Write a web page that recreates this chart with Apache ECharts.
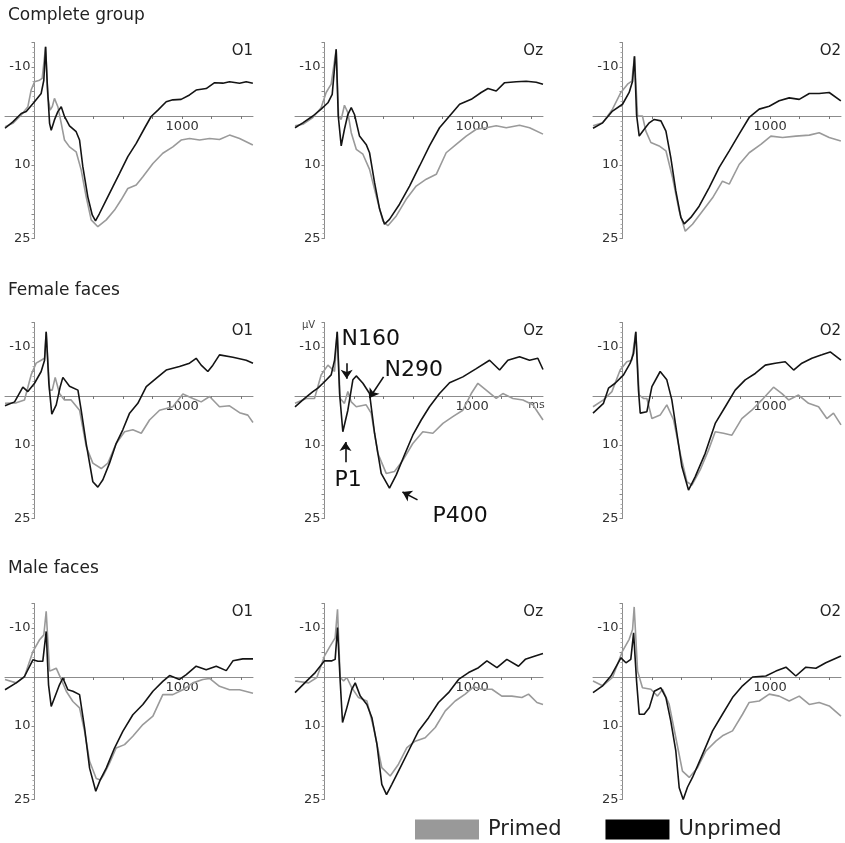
<!DOCTYPE html>
<html>
<head>
<meta charset="utf-8">
<script src="https://cdn.jsdelivr.net/npm/echarts@6/dist/echarts.min.js"></script>
<style>html,body{margin:0;padding:0;background:#fff;}#c{width:845px;height:843px;}</style>
</head>
<body>
<div id="c"></div>
<script>
// ---------- labels ----------
const groupTitles = ['Complete group', 'Female faces', 'Male faces'];
const channelNames = ['O1', 'Oz', 'O2'];
const seriesNames = ['Primed', 'Unprimed'];
const yTickLabels = [-10, 10, 25];
const xTickLabels = [1000];

// ---------- data: [time ms, amplitude µV] (negative up) ----------
const complete_O1_primed = [[-200,2.2],[-147,1.5],[-90,-0.2],[-45,-1.9],[-23,-5.3],[0,-7.0],[34,-7.3],[52,-7.7],[75,-14.1],[90,-3.9],[106,-1.2],[120,-1.9],[135,-3.6],[158,-1.9],[181,1.5],[203,4.9],[237,6.3],[282,7.3],[316,11.0],[350,16.5],[384,21.2],[429,22.6],[486,21.2],[542,19.2],[587,17.1],[632,14.8],[689,14.1],[734,12.4],[802,9.7],[869,7.6],[937,6.3],[993,4.9],[1050,4.6],[1118,4.9],[1186,4.6],[1253,4.8],[1321,3.9],[1389,4.6],[1479,5.9]];
const complete_O1_unprimed = [[-200,2.5],[-147,1.2],[-90,-0.5],[-56,-0.9],[0,-2.9],[45,-4.6],[63,-7.3],[75,-14.1],[86,-6.7],[102,1.5],[113,2.9],[135,0.8],[158,-0.9],[181,-1.9],[203,0.1],[237,2.0],[282,3.2],[305,4.9],[327,10.3],[361,16.5],[391,20.2],[413,21.4],[440,19.9],[486,17.1],[531,14.4],[576,11.7],[632,8.3],[689,5.6],[745,2.5],[790,0.1],[836,-1.2],[892,-2.9],[937,-3.3],[993,-3.4],[1050,-4.3],[1095,-5.3],[1163,-5.6],[1220,-6.8],[1276,-6.7],[1321,-7.0],[1389,-6.7],[1434,-7.0],[1479,-6.7]];
const complete_Oz_primed = [[-200,2.0],[-147,1.7],[-79,0.3],[-23,-1.7],[11,-4.8],[45,-6.5],[79,-13.6],[95,0],[113,0.7],[135,-2.2],[158,-0.7],[181,3.4],[215,6.8],[260,7.8],[305,10.9],[350,16.3],[395,21.4],[429,22.4],[486,20.4],[553,17.0],[621,14.3],[689,12.9],[757,11.9],[824,7.5],[892,5.8],[960,4.1],[1028,2.7],[1095,2.4],[1163,2.0],[1231,2.4],[1321,1.9],[1389,2.4],[1480,3.7]];
const complete_Oz_unprimed = [[-200,2.4],[-147,1.4],[-79,0],[-23,-1.4],[23,-2.7],[52,-4.4],[79,-13.6],[93,0],[113,6.1],[135,2.7],[158,-0.3],[181,-1.7],[203,-0.3],[237,4.1],[282,5.8],[305,7.5],[339,13.6],[373,19.0],[406,22.1],[440,21.1],[508,18.0],[576,14.3],[644,10.2],[711,6.1],[779,2.4],[847,0],[915,-2.4],[994,-3.4],[1061,-4.8],[1107,-5.6],[1163,-5.1],[1220,-6.8],[1299,-7.0],[1366,-7.1],[1434,-6.9],[1480,-6.5]];
const complete_O2_primed = [[-200,2.0],[-135,1.4],[-68,-1.4],[-11,-4.8],[34,-6.5],[63,-7.1],[81,-12.2],[102,0],[135,0],[158,3.1],[192,5.4],[248,6.1],[294,7.1],[339,12.6],[384,19.4],[425,23.5],[474,22.1],[542,19.4],[610,16.7],[677,13.3],[723,13.9],[790,9.9],[858,7.5],[937,5.8],[1005,4.1],[1084,4.4],[1174,4.1],[1265,3.9],[1332,3.4],[1400,4.4],[1479,5.1]];
const complete_O2_unprimed = [[-200,2.5],[-135,1.4],[-68,-1.0],[0,-2.4],[45,-4.8],[68,-7.1],[81,-12.2],[95,-0.3],[113,4.1],[147,2.7],[181,1.4],[215,0.7],[260,1.0],[294,3.1],[327,8.5],[361,15.3],[395,20.7],[418,22.0],[463,20.7],[519,18.4],[587,14.6],[655,10.5],[723,7.1],[790,3.7],[858,0.3],[926,-1.4],[994,-2.0],[1061,-3.1],[1129,-3.7],[1197,-3.4],[1265,-4.6],[1332,-4.6],[1400,-4.8],[1479,-3.1]];

const female_O1_primed = [[-200,1.5],[-124,1.4],[-68,0.8],[-23,-4.3],[11,-6.7],[45,-7.3],[68,-7.7],[79,-13.1],[102,-1.2],[120,-1.2],[140,-3.8],[169,-0.5],[203,0.8],[248,0.8],[305,2.9],[350,10.3],[395,13.7],[452,14.8],[497,13.7],[553,9.7],[610,7.3],[666,6.9],[723,7.6],[779,4.9],[847,2.9],[937,2.2],[1005,-0.4],[1073,0.5],[1129,1.2],[1186,0.1],[1253,2.2],[1321,2.0],[1389,3.4],[1445,3.9],[1480,5.4]];
const female_O1_unprimed = [[-200,2.0],[-135,1.2],[-79,-1.8],[-45,-0.9],[0,-2.6],[45,-5.0],[68,-7.3],[79,-13.1],[97,-2.6],[117,3.7],[147,1.8],[174,-1.9],[192,-3.8],[237,-2.0],[294,-1.2],[316,2.9],[350,9.7],[395,17.5],[429,18.6],[463,17.1],[508,13.7],[553,9.7],[598,6.9],[644,3.5],[700,1.5],[757,-1.9],[824,-3.6],[892,-5.3],[982,-6.0],[1050,-6.7],[1095,-7.7],[1129,-6.3],[1174,-5.0],[1208,-6.3],[1253,-8.4],[1344,-7.9],[1434,-7.3],[1480,-6.7]];
const female_Oz_primed = [[-200,1.5],[-124,0.5],[-68,0.5],[-23,-4.3],[23,-6.3],[68,-5.0],[86,-13.1],[106,0.5],[135,1.5],[158,-0.9],[181,1.2],[215,2.2],[282,1.8],[316,3.5],[361,11.7],[418,15.8],[474,15.4],[531,13.1],[598,9.7],[666,7.3],[734,7.6],[802,5.6],[869,4.2],[937,2.9],[994,-0.5],[1039,-2.6],[1095,-1.2],[1163,0.5],[1208,-0.5],[1276,0.5],[1344,0.8],[1411,1.8],[1480,4.9]];
const female_Oz_unprimed = [[-200,2.2],[-135,0.5],[-79,-0.9],[-45,-1.6],[0,-2.9],[45,-4.3],[68,-7.3],[86,-13.1],[102,-0.5],[124,7.3],[158,2.9],[192,-3.3],[215,-4.1],[260,-2.6],[305,-0.5],[339,7.6],[384,15.8],[440,18.8],[486,16.1],[542,12.0],[598,8.0],[655,4.9],[711,2.2],[779,-0.5],[847,-2.7],[937,-3.9],[1028,-5.6],[1118,-7.3],[1186,-5.3],[1242,-7.3],[1321,-8.0],[1389,-7.3],[1445,-7.7],[1480,-5.4]];
const female_O2_primed = [[-200,2.2],[-129,0.8],[-72,-0.9],[-16,-5.3],[29,-7.0],[63,-7.3],[90,-13.1],[113,-0.2],[142,0.5],[165,0.5],[199,4.6],[255,3.9],[300,1.8],[346,4.9],[391,11.7],[436,17.5],[470,18.2],[526,15.1],[583,11.0],[628,7.3],[684,7.6],[741,8.0],[808,4.6],[876,2.9],[944,0.8],[1023,-1.8],[1080,-0.5],[1125,0.8],[1192,-0.2],[1260,1.5],[1328,2.2],[1384,4.6],[1429,3.5],[1480,5.9]];
const female_O2_unprimed = [[-200,3.5],[-129,1.5],[-95,-1.6],[-50,-2.6],[7,-4.3],[52,-6.7],[75,-8.7],[90,-13.1],[108,-1.2],[120,3.5],[165,3.2],[199,-1.9],[255,-5.0],[300,-3.3],[334,0.8],[368,7.6],[402,14.4],[447,19.2],[492,16.5],[560,11.7],[628,5.6],[696,2.2],[763,-1.2],[831,-3.3],[899,-4.6],[967,-6.3],[1034,-6.7],[1102,-7.0],[1159,-5.3],[1215,-6.7],[1283,-7.7],[1350,-8.4],[1407,-9.0],[1480,-7.3]];

const male_O1_primed = [[-200,0.5],[-124,1.2],[-68,-0.1],[-11,-5.2],[34,-7.6],[63,-8.6],[79,-13.4],[102,-1.2],[124,-1.5],[147,-1.8],[181,0.5],[215,2.9],[260,5.0],[305,6.3],[339,11.1],[373,17.2],[418,20.7],[447,21.0],[470,19.9],[508,17.6],[553,14.5],[610,13.8],[666,12.1],[734,9.7],[802,8.0],[869,3.6],[937,3.6],[1005,2.6],[1073,1.2],[1140,0.5],[1186,0.3],[1253,1.9],[1321,2.6],[1389,2.6],[1480,3.3]];
const male_O1_unprimed = [[-200,2.6],[-124,1.2],[-68,-0.1],[-11,-3.5],[23,-3.2],[56,-3.2],[79,-9.3],[95,1.6],[113,6.0],[135,4.3],[169,1.6],[192,0.2],[226,2.6],[260,2.9],[305,3.6],[339,10.4],[373,18.6],[415,23.3],[445,21.0],[486,18.6],[542,14.5],[598,11.1],[666,7.7],[734,5.6],[802,2.9],[869,0.9],[915,-0.3],[982,0.5],[1028,-0.5],[1095,-2.2],[1163,-1.5],[1231,-2.2],[1299,-1.3],[1344,-3.3],[1411,-3.7],[1480,-3.7]];
const male_Oz_primed = [[-200,0.8],[-108,1.2],[-52,0.1],[0,-4.3],[38,-6.3],[72,-8.0],[88,-13.8],[106,0.1],[129,0.8],[151,0.1],[185,2.2],[230,4.2],[287,4.9],[332,10.3],[388,18.5],[445,20.2],[501,17.8],[558,14.4],[614,13.1],[682,12.4],[750,10.3],[818,6.9],[885,4.9],[953,3.5],[1009,2.0],[1066,2.5],[1134,2.5],[1201,3.9],[1269,3.9],[1337,4.2],[1382,3.5],[1439,5.2],[1480,5.6]];
const male_Oz_unprimed = [[-200,3.2],[-120,0.8],[-63,-0.9],[0,-3.3],[50,-3.3],[72,-3.6],[88,-10.1],[106,0.8],[122,9.3],[151,6.3],[185,2.5],[208,1.2],[242,3.9],[287,5.6],[321,8.3],[355,13.7],[388,21.9],[420,24.0],[456,21.9],[513,18.5],[569,15.1],[637,11.0],[705,8.3],[772,5.2],[840,3.2],[908,0.5],[976,-0.9],[1043,-1.9],[1100,-3.3],[1168,-1.9],[1235,-3.6],[1314,-2.2],[1360,-3.6],[1427,-4.3],[1480,-4.8]];
const male_O2_primed = [[-200,0.8],[-135,1.8],[-68,0.1],[0,-5.3],[45,-7.7],[68,-9.7],[79,-14.3],[102,-1.2],[135,2.2],[192,2.5],[237,3.9],[271,2.5],[316,5.6],[361,12.4],[406,19.2],[452,20.5],[508,18.5],[565,15.1],[632,13.1],[677,12.0],[745,11.0],[813,7.6],[858,5.2],[926,4.9],[994,3.5],[1061,3.9],[1129,4.9],[1197,3.9],[1265,5.6],[1332,5.2],[1400,5.9],[1480,8.0]];
const male_O2_unprimed = [[-200,3.2],[-135,1.8],[-79,-0.2],[-11,-3.9],[23,-2.9],[56,-3.6],[75,-9.0],[95,0.8],[113,7.6],[147,7.6],[181,6.3],[215,2.9],[260,2.2],[294,4.2],[327,9.0],[361,15.1],[384,22.6],[411,25.0],[440,22.5],[474,20.5],[542,15.8],[610,11.0],[677,7.6],[745,4.2],[813,1.8],[881,0],[971,-0.2],[1039,-1.2],[1107,-2.0],[1174,-0.2],[1242,-2.0],[1310,-1.8],[1377,-2.9],[1480,-4.3]];

// annotation labels in Female faces / Oz (data coordinates)
const annotationTexts = [
  {text: 'N160', at: [115, -11.6]},
  {text: 'N290', at: [406, -5.3]},
  {text: 'P1',   at: [68, 17.1]},
  {text: 'P400', at: [732, 24.5]}
];
const annotationArrows = [
  [[150, -6.7], [150, -3.5]],
  [[400, -3.9], [305, 0.4]],
  [[142, 13.5], [142, 9.4]],
  [[630, 21.2], [528, 19.6]]
];

// ---------- layout ----------
const FONT = 'DejaVu Sans, Verdana, sans-serif';
const panels = [
  [[complete_O1_primed, complete_O1_unprimed], [complete_Oz_primed, complete_Oz_unprimed], [complete_O2_primed, complete_O2_unprimed]],
  [[female_O1_primed, female_O1_unprimed], [female_Oz_primed, female_Oz_unprimed], [female_O2_primed, female_O2_unprimed]],
  [[male_O1_primed, male_O1_unprimed], [male_Oz_primed, male_Oz_unprimed], [male_O2_primed, male_O2_unprimed]]
];
const X_MIN = -200, X_MAX = 1480, Y_MIN = -15, Y_MAX = 25;
const colLeft = [5, 295, 593];
const rowTop = [42.5, 322.5, 603.5];
const W = 248, H = 196;
const zeroY = [116, 396, 677];
const chRight = [592, 302, 4];
const colors = ['#9a9a9a', '#141414'];
// shift axes from grid edges onto the zero lines
const xAxisOffset = -H * (Y_MAX - 0) / (Y_MAX - Y_MIN);
const yAxisOffset = -W * (0 - X_MIN) / (X_MAX - X_MIN);

const grid = [], xAxis = [], yAxis = [], series = [], title = [];
groupTitles.forEach((t, r) => {
  title.push({text: t, left: 8, top: [7, 282, 560][r], padding: 0,
    textStyle: {fontFamily: FONT, fontSize: 17, fontWeight: 'normal', color: '#222'}});
});
let idx = 0;
for (let r = 0; r < 3; r++) {
  for (let c = 0; c < 3; c++) {
    grid.push({left: colLeft[c], top: rowTop[r], width: W, height: H, containLabel: false, outerBoundsMode: 'none'});
    xAxis.push({
      type: 'value', gridIndex: idx, min: X_MIN, max: X_MAX, interval: 200,
      position: 'bottom', offset: xAxisOffset,
      axisLine: {onZero: false, lineStyle: {color: '#8c8c8c', width: 1}},
      axisTick: {show: true, length: 3, lineStyle: {color: '#777'}},
      axisLabel: {color: '#333', fontSize: 13, fontFamily: FONT, margin: 4, showMinLabel: false, showMaxLabel: false,
        formatter: v => xTickLabels.includes(v) ? String(v) : ''},
      splitLine: {show: false}
    });
    yAxis.push({
      type: 'value', gridIndex: idx, inverse: true, min: Y_MIN, max: Y_MAX, interval: 5,
      position: 'left', offset: yAxisOffset,
      axisLine: {onZero: false, lineStyle: {color: '#8c8c8c', width: 1}},
      axisTick: {show: true, length: 3, lineStyle: {color: '#888'}},
      minorTick: {show: true, splitNumber: 5, length: 2, lineStyle: {color: '#aaa'}},
      axisLabel: {color: '#333', fontSize: 13, fontFamily: FONT, margin: 4,
        formatter: v => yTickLabels.includes(v) ? String(v) : ''},
      splitLine: {show: false}
    });
    title.push({text: channelNames[c], right: chRight[c], top: zeroY[r] - 72, padding: 0,
      textStyle: {fontFamily: FONT, fontSize: 15, fontWeight: 'normal', color: '#222'}});
    panels[r][c].forEach((data, k) => {
      const s = {
        name: seriesNames[k], type: 'line', xAxisIndex: idx, yAxisIndex: idx,
        data: data, showSymbol: false, symbol: 'none', smooth: false,
        lineStyle: {color: colors[k], width: 1.6},
        itemStyle: {color: colors[k]}, z: 2 + k, silent: true
      };
      if (r === 1 && c === 1 && k === 1) {
        s.markLine = {
          silent: true, symbol: ['none', 'arrow'], symbolSize: 9,
          lineStyle: {color: '#111', width: 1.6, type: 'solid'},
          label: {show: false},
          data: annotationArrows.map(a => [{coord: a[0]}, {coord: a[1]}])
        };
      }
      series.push(s);
    });
    idx++;
  }
}

const chart = echarts.init(document.getElementById('c'), null, {renderer: 'canvas'});
chart.setOption({
  animation: false,
  backgroundColor: '#fff',
  title, grid, xAxis, yAxis, series,
  legend: {
    left: 415, top: 819, padding: 0, itemWidth: 64, itemHeight: 20, itemGap: 44, icon: 'rect',
    selectedMode: false,
    textStyle: {fontFamily: FONT, fontSize: 21, color: '#222', padding: [0, 0, 0, 4]},
    data: [{name: 'Primed', itemStyle: {color: '#999999'}}, {name: 'Unprimed', itemStyle: {color: '#000000'}}]
  }
});

// annotations for Female faces / Oz (grid 4)
const gi = {xAxisIndex: 4, yAxisIndex: 4};
const graphic = annotationTexts.map(a => {
  const p = chart.convertToPixel(gi, a.at);
  return {type: 'text', x: p[0], y: p[1], silent: true,
    style: {text: a.text, fill: '#111', font: '22px ' + FONT, textAlign: 'left', textVerticalAlign: 'middle'}};
});
const pu = chart.convertToPixel(gi, [-108, -14.5]);
graphic.push({type: 'text', x: pu[0], y: pu[1], silent: true,
  style: {text: 'µV', fill: '#444', font: '10px ' + FONT, textAlign: 'center', textVerticalAlign: 'middle'}});
const pm = chart.convertToPixel(gi, [1436, 1.8]);
graphic.push({type: 'text', x: pm[0], y: pm[1], silent: true,
  style: {text: 'ms', fill: '#444', font: '11px ' + FONT, textAlign: 'center', textVerticalAlign: 'middle'}});
chart.setOption({graphic});
</script>
</body>
</html>
